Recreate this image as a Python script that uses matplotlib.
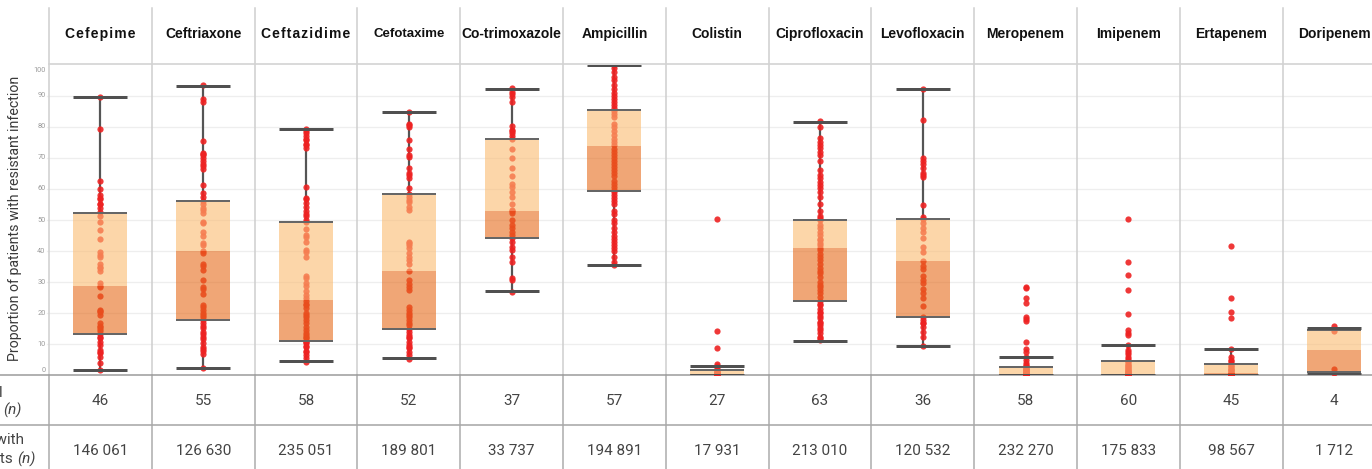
import matplotlib
matplotlib.use("Agg")
import matplotlib.pyplot as plt
from matplotlib.font_manager import FontProperties, findfont
from matplotlib.ft2font import FT2Font

# ---------------- data ----------------
drugs = ["Cefepime", "Ceftriaxone", "Ceftazidime", "Cefotaxime", "Co-trimoxazole",
         "Ampicillin", "Colistin", "Ciprofloxacin", "Levofloxacin", "Meropenem",
         "Imipenem", "Ertapenem", "Doripenem"]
studies = [46, 55, 58, 52, 37, 57, 27, 63, 36, 58, 60, 45, 4]
patients = [146061, 126630, 235051, 189801, 33737, 194891, 17931, 213010,
            120532, 232270, 175833, 98567, 1712]

whislo = [1.7, 2.5, 4.6, 5.5, 27.1, 35.5, 0.0, 11.2, 9.5, 0.0, 0.0, 0.0, 0.4]
q1 = [13.2, 17.7, 11.1, 14.8, 44.1, 59.3, 0.0, 24.0, 18.9, 0.0, 0.0, 0.0, 1.0]
med = [28.8, 40.1, 24.2, 33.7, 52.9, 73.8, 0.4, 41.1, 36.8, 0.5, 0.0, 0.8, 8.3]
q3 = [52.4, 56.2, 49.3, 58.5, 76.2, 85.5, 1.7, 49.9, 50.2, 2.8, 4.6, 3.7, 14.6]
whishi = [89.6, 93.0, 79.2, 84.8, 92.1, 99.8, 3.1, 81.5, 92.1, 6.0, 9.7, 8.4, 15.2]

cefepime = [89.6, 79.2, 62.7, 60.0, 58.0, 56.6, 55.3, 54.0, 52.6, 51.3, 49.4, 46.8,
            44.0, 39.7, 38.7, 38.1, 35.8, 35.0, 33.7, 29.6, 28.5, 25.4, 21.0, 20.3,
            19.4, 16.8, 16.0, 15.0, 14.3, 13.2, 11.9, 10.8, 9.8, 8.2, 7.1, 5.8, 3.9,
            1.7, 20.8, 15.5, 12.5, 7.5, 55.0, 57.2, 28.9, 34.4]
ceftriaxone = [93.4, 88.8, 88.0, 75.4, 71.6, 70.8, 70.1, 68.0, 67.3, 66.5, 61.2, 58.6,
               57.5, 56.2, 55.1, 53.2, 52.1, 49.4, 48.9, 46.0, 42.7, 41.9, 40.1, 39.5,
               35.2, 33.9, 30.7, 28.3, 27.7, 26.2, 21.9, 21.0, 20.2, 18.9, 17.7, 17.0,
               15.9, 15.1, 13.3, 12.4, 11.6, 10.3, 9.2, 7.9, 6.9, 2.3, 71.2, 69.0,
               54.0, 45.0, 36.0, 22.5, 14.0, 8.5, 19.5]
ceftazidime = [79.2, 78.0, 77.0, 75.7, 74.6, 73.2, 60.6, 56.6, 55.5, 54.3, 53.0, 51.3,
               49.3, 45.1, 44.4, 40.3, 39.7, 31.2, 29.8, 28.7, 25.9, 24.8, 22.6, 21.6,
               18.9, 17.8, 16.8, 14.6, 13.5, 12.4, 11.1, 10.3, 9.5, 7.6, 6.6, 5.5, 4.4,
               78.5, 76.0, 74.0, 57.0, 52.0, 50.0, 47.0, 43.0, 38.0, 32.0, 27.0, 24.0,
               23.0, 20.0, 19.5, 15.5, 13.0, 12.0, 10.8, 9.0, 8.0]
cefotaxime = [84.8, 81.0, 80.5, 75.7, 73.0, 70.3, 66.6, 64.4, 63.4, 60.2, 58.5, 57.5,
              55.9, 54.2, 53.2, 43.0, 41.9, 40.9, 39.3, 37.1, 36.0, 33.7, 30.7, 29.4,
              27.5, 21.0, 20.0, 18.9, 17.8, 16.2, 14.8, 14.0, 13.0, 11.9, 10.8, 9.8,
              8.7, 7.6, 6.6, 5.2, 80.0, 71.0, 65.0, 56.5, 42.5, 38.0, 28.5, 22.0,
              19.5, 17.0, 12.5, 9.2]
cotrimoxazole = [92.6, 91.2, 89.6, 88.0, 80.2, 79.1, 78.0, 77.0, 76.2, 73.0, 69.8,
                 66.8, 61.5, 60.7, 59.1, 57.5, 53.2, 52.9, 52.1, 48.4, 47.3, 46.2,
                 45.1, 44.1, 41.4, 40.3, 36.6, 31.2, 30.7, 26.9, 90.5, 78.5, 64.0,
                 55.0, 50.0, 43.0, 38.0]
ampicillin = [100.0, 99.0, 97.5, 96.0, 95.0, 93.5, 92.0, 91.0, 90.0, 89.0, 88.0, 87.0,
              86.0, 85.0, 84.0, 83.0, 81.0, 80.0, 78.5, 77.5, 76.0, 75.0, 74.0, 73.0,
              72.0, 71.0, 70.0, 69.0, 68.0, 67.0, 66.0, 65.0, 64.0, 62.5, 61.5, 60.5,
              59.5, 59.0, 58.0, 57.0, 56.0, 55.0, 53.0, 52.0, 50.0, 49.0, 47.5, 46.0,
              45.0, 44.0, 43.0, 42.0, 41.0, 40.0, 38.0, 36.5, 35.5]
colistin = [50.2, 14.2, 8.9, 3.7, 3.0, 2.3, 1.8, 1.5, 1.2, 1.0, 0.8, 0.6, 0.5, 0.4,
            0.3, 0.2, 0.1, 0, 0, 0, 0, 0, 0, 0, 0, 0, 0]
ciprofloxacin = [81.7, 76.5, 74.1, 73.3, 70.9, 68.9, 64.4, 63.4, 62.3, 61.2, 60.2,
                 57.5, 53.0, 51.3, 49.9, 48.4, 47.3, 45.1, 43.5, 41.9, 41.1, 40.3,
                 38.2, 35.8, 34.4, 32.8, 31.5, 30.1, 28.5, 27.5, 26.4, 25.1, 24.0,
                 22.6, 20.5, 20.0, 18.4, 17.3, 16.2, 15.1, 13.5, 12.4, 11.4, 80.0,
                 75.0, 72.0, 66.0, 59.0, 55.0, 50.5, 46.0, 44.0, 42.5, 39.0, 37.0,
                 33.5, 29.0, 23.0, 21.5, 19.0, 16.8, 14.5, 12.0]
levofloxacin = [92.3, 82.3, 69.8, 69.0, 66.6, 65.0, 63.7, 54.8, 51.0, 50.2, 48.9,
                47.3, 44.1, 41.4, 39.8, 36.8, 35.2, 34.1, 30.7, 29.8, 27.7, 26.4,
                22.3, 18.9, 17.8, 16.8, 15.7, 12.4, 9.3, 68.0, 64.5, 46.0, 32.0,
                25.0, 17.0, 14.0]
meropenem = [28.5, 28.0, 24.8, 23.4, 18.9, 18.2, 17.5, 10.6, 8.4, 7.6, 6.0, 5.0, 3.9,
             3.5, 3.0, 2.8, 2.5, 2.2, 2.0, 1.8, 1.6, 1.4, 1.2, 1.0, 0.9, 0.8, 0.7,
             0.6, 0.5, 0.4, 0.3, 0.2, 0.1, 0, 0, 0, 0, 0, 0, 0, 0, 0, 0, 0, 0, 0, 0,
             0, 0, 0, 0, 0, 0, 0, 0, 0, 0]
imipenem = [50.2, 36.6, 32.3, 27.5, 19.6, 14.6, 13.7, 13.0, 9.7, 8.2, 7.5, 6.8, 6.0,
            5.4, 4.6, 4.2, 3.8, 3.4, 3.0, 2.7, 2.4, 2.1, 1.8, 1.5, 1.3, 1.1, 0.9, 0.7,
            0.5, 0.3, 0.2, 0.1, 0, 0, 0, 0, 0, 0, 0, 0, 0, 0, 0, 0, 0, 0, 0, 0, 0, 0,
            0, 0, 0, 0, 0, 0, 0, 0, 0, 0]
ertapenem = [41.6, 25.0, 20.3, 18.4, 8.5, 6.0, 5.0, 4.5, 4.0, 3.5, 3.0, 2.6, 2.2, 1.9,
             1.6, 1.3, 1.0, 0.8, 0.6, 0.4, 0.2, 0, 0, 0, 0, 0, 0, 0, 0, 0, 0, 0, 0, 0,
             0, 0, 0, 0, 0, 0, 0, 0, 0, 0, 0]
doripenem = [15.8, 14.3, 2.0, 0.8]

points = [cefepime, ceftriaxone, ceftazidime, cefotaxime, cotrimoxazole, ampicillin,
          colistin, ciprofloxacin, levofloxacin, meropenem, imipenem, ertapenem,
          doripenem]

ylabel = "Proportion of patients with resistant infection"
yticks = [0, 10, 20, 30, 40, 50, 60, 70, 80, 90, 100]

# ---------------- layout (pixels) ----------------
W, H = 1372, 469
PX0, PW = 49.0, 102.8
Y0, Y100 = 375.4, 64.6
NUM_FONT = "Roboto"

fig = plt.figure(figsize=(W / 100, H / 100), dpi=100)
renderer = fig.canvas.get_renderer()
ov = fig.add_axes([0, 0, 1, 1], zorder=0)
ov.set_xlim(0, W)
ov.set_ylim(H, 0)
ov.axis("off")

n = len(drugs)
ax = fig.add_axes([PX0 / W, (H - Y0) / H, n * PW / W, (Y0 - Y100) / H], zorder=1)
ax.set_xlim(0, n)
ax.set_ylim(0, 100)
ax.patch.set_alpha(0)
for s in ax.spines.values():
    s.set_visible(False)
ax.set_xticks([])
ax.set_yticks([])

def px(lw):
    return lw * 0.72

# gridlines
for v in yticks[1:-1]:
    yy = Y0 - v * (Y0 - Y100) / 100
    ov.plot([47, W], [yy, yy], color="#EEEEEE", lw=px(1.3), zorder=0)

# separators
for k in range(n + 1):
    x = PX0 + k * PW
    ov.plot([x, x], [8, Y0], color="#CDCDCD", lw=px(1.5), zorder=1)
    ov.plot([x, x], [Y0, H], color="#AAAAAA", lw=px(1.5), zorder=1)
ov.plot([PX0, W], [64, 64], color="#D2D2D2", lw=px(1.6), zorder=1)
ov.plot([0, W], [Y0, Y0], color="#A0A0A0", lw=px(1.6), zorder=2)
ov.plot([0, W], [425, 425], color="#A8A8A8", lw=px(1.6), zorder=2)

# y ticks
for v in yticks:
    yy = Y0 - v * (Y0 - Y100) / 100
    if v == 0:
        yy = 371
    if v == 100:
        yy = 70
    ov.text(45.5, yy, str(v), ha="right", va="center", fontsize=5.3,
            color="#9A9A9A", family=NUM_FONT)

ov.text(15, 218, ylabel, rotation=90, ha="center", va="center", fontsize=10.2,
        color="#3A3A3A", family=NUM_FONT)

# row labels (the reference is cropped at its left edge)
ov.text(3, 393, "Total", ha="right", va="center", fontsize=11, color="#444444",
        family=NUM_FONT)
ov.text(3, 410, "(n)", ha="left", va="center", fontsize=11, color="#444444",
        family=NUM_FONT, style="italic")
ov.text(24, 440, "Patients with", ha="right", va="center", fontsize=11,
        color="#444444", family=NUM_FONT)
ov.text(13, 459, "test results", ha="right", va="center", fontsize=11,
        color="#444444", family=NUM_FONT)
ov.text(17.5, 459, "(n)", ha="left", va="center", fontsize=11, color="#444444",
        family=NUM_FONT, style="italic")

# headers: two labels in the reference use wider tracking
header_target = {"Cefepime": 73, "Ceftazidime": 91}
header_size = {"Cefotaxime": 9.5}
HS = "\u200a"  # hair space

hfp10 = FontProperties(family="Liberation Sans", weight="bold", size=10)
try:
    _f = FT2Font(findfont(hfp10))
    has_hair = _f.get_char_index(ord(HS)) != 0
except Exception:
    has_hair = False

def width_of(s, fp):
    t = ov.text(0, 34, s, ha="left", va="center", fontproperties=fp)
    bb = t.get_window_extent(renderer)
    t.remove()
    return bb.x0, bb.x1

def header(s, cx, cy):
    fp = FontProperties(family="Liberation Sans", weight="bold",
                        size=header_size.get(s, 10))
    if s in header_target:
        target = header_target[s]
        if has_hair:
            best, bestd = s, 1e9
            for k in range(1, 5):
                cand = (HS * k).join(s)
                x0, x1 = width_of(cand, fp)
                d = abs((x1 - x0) - target)
                if d < bestd:
                    best, bestd = cand, d
            ov.text(cx, cy, best, ha="center", va="center", fontproperties=fp,
                    color="#111111")
        else:
            x0, _ = width_of(s, fp)
            rights = [width_of(s[:k + 1], fp)[1] - x0 for k in range(len(s))]
            sp = (target - rights[-1]) / (len(s) - 1)
            start = cx - target / 2
            for k, ch in enumerate(s):
                ov.text(start + rights[k] + k * sp, cy, ch, ha="right",
                        va="center", fontproperties=fp, color="#111111")
    else:
        ov.text(cx, cy, s, ha="center", va="center", fontproperties=fp,
                color="#111111")

for i, d in enumerate(drugs):
    cx = PX0 + (i + 0.5) * PW
    header(d, cx, 34)
    ov.text(cx, 401, str(studies[i]), ha="center", va="center", fontsize=11,
            color="#444444", family=NUM_FONT)
    ov.text(cx, 451, f"{patients[i]:,}".replace(",", " "), ha="center",
            va="center", fontsize=11, color="#444444", family=NUM_FONT)

# boxes
BW = 0.262
light = "#FBBB71"
dark = "#E66B1B"
for i in range(n):
    c = i + 0.5
    ax.plot([c, c], [whislo[i], q1[i]], color="#555555", lw=px(2.2), zorder=2,
            solid_capstyle="butt")
    ax.plot([c, c], [q3[i], whishi[i]], color="#555555", lw=px(2.2), zorder=2,
            solid_capstyle="butt")
    ax.scatter([c] * len(points[i]), points[i], s=20, color="#EE2222", alpha=0.9,
               linewidths=0, zorder=3, clip_on=True)
    ax.bar(c, q3[i] - med[i], bottom=med[i], width=2 * BW, color=light, alpha=0.6,
           zorder=4, linewidth=0)
    ax.bar(c, med[i] - q1[i], bottom=q1[i], width=2 * BW, color=dark, alpha=0.6,
           zorder=4, linewidth=0)
    ax.plot([c - BW, c + BW], [q1[i], q1[i]], color="#666666", lw=px(2.0), zorder=5,
            solid_capstyle="butt")
    ax.plot([c - BW, c + BW], [q3[i], q3[i]], color="#666666", lw=px(2.0), zorder=5,
            solid_capstyle="butt")
    ax.plot([c - BW, c + BW], [whislo[i], whislo[i]], color="#505050", lw=px(3.0),
            zorder=5, solid_capstyle="butt")
    ax.plot([c - BW, c + BW], [whishi[i], whishi[i]], color="#505050", lw=px(3.0),
            zorder=5, solid_capstyle="butt")

fig.savefig("out.png", dpi=100)
